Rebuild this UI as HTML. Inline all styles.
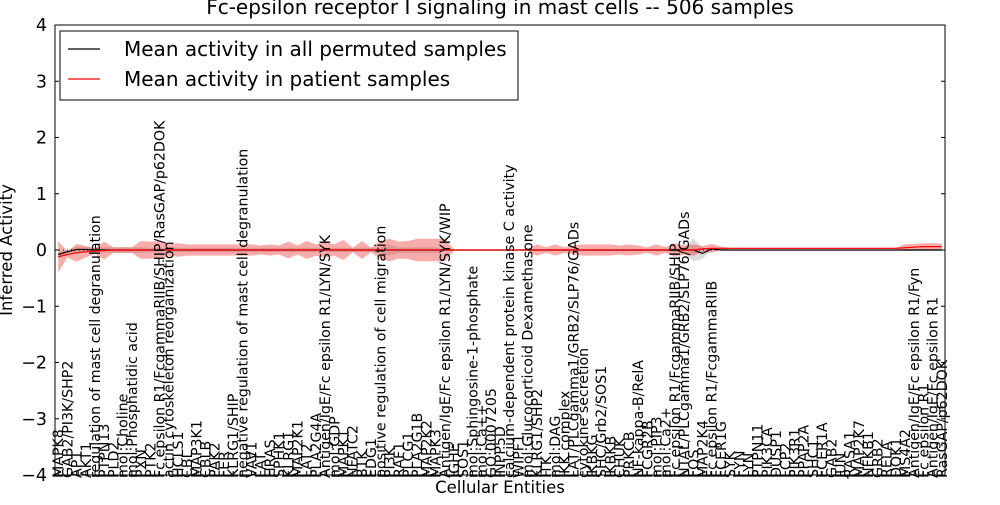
<!DOCTYPE html>
<html><head><meta charset="utf-8"><style>
body{margin:0;background:#fff;}
svg text{font-family:"DejaVu Sans","Liberation Sans",sans-serif;}
</style></head><body>
<svg id="chart" width="1000" height="500" xmlns="http://www.w3.org/2000/svg">
<text x="500" y="14" font-size="20" text-anchor="middle">Fc-epsilon receptor I signaling in mast cells -- 506 samples</text>
<g id="bands"></g>
<g id="lines"></g>
<rect x="55" y="25" width="890" height="450" fill="none" stroke="#000" stroke-width="1"/>
<g id="yaxis"></g>
<g id="xaxis"></g>
<text transform="translate(12,250) rotate(-90)" font-size="16.5" text-anchor="middle">Inferred Activity</text>
<text x="500" y="493" font-size="16.5" text-anchor="middle">Cellular Entities</text>
<g>
<rect x="60" y="31" width="458" height="69" fill="#fff" stroke="#000" stroke-width="1"/>
<line x1="68" y1="49" x2="100" y2="49" stroke="#000" stroke-width="1.2"/>
<text x="124" y="56" font-size="20">Mean activity in all permuted samples</text>
<line x1="68" y1="79" x2="100" y2="79" stroke="#f00" stroke-width="1.2"/>
<text x="124" y="86" font-size="20">Mean activity in patient samples</text>
</g>
</svg>
<script>
const categories=["MAPK8","GAB2/PI3K/SHP2","AP1","AKT1","regulation of mast cell degranulation","PTPN13","PLD2","mol:Choline","mol:Phosphatidic acid","PXN","PTK2","Fc epsilon R1/FcgammaRIIB/SHIP/RasGAP/p62DOK","actin cytoskeleton reorganization","HCLS1","CBL","MAP3K1","CBLB","PAK2","FER","KLRG1/SHIP","negative regulation of mast cell degranulation","VAV1","LAT","HRAS","SPHK1","KLRG1","MAP2K1","LAT2","PLA2G4A","Antigen/IgE/Fc epsilon R1/LYN/SYK","mol:GDP","MAPK1","NFATC2","BTK","EDG1","positive regulation of cell migration","PI3K","RAF1","PLCG1","PLA2G1B","MAP2K2","MAPK3","Antigen/IgE/Fc epsilon R1/LYN/SYK/WIP","IGHE","SOS1","mol:Sphingosine-1-phosphate","mol:Ca++","GO:0007205","INPP5D","calcium-dependent protein kinase C activity","WIPF1","mol:Glucocorticoid Dexamethasone","KLRG1/SHP2","ITK","mol:DAG","IKK complex","LAT/PLCgamma1/GRB2/SLP76/GADs","cytokine secretion","IKBKG","SHC/Grb2/SOS1","IKBKB","CHUK","PRKCB","NF-kappa-B/RelA","FCGR2B","mol:PIP3","mol:Ca2+","Fc epsilon R1/FcgammaRIIB/SHIP","NTAL/PLCgamma1/GRB2/SLP76/GADs","FOS","MAP2K4","Fc epsilon R1/FcgammaRIIB","FCER1G","SYK","FYN","LYN","PTPN11","PIK3CA","DUSP1","LCP2","PIK3R1","PPAP2A","SHC1","FCER1A","GAB2","JUN","RASA1","MAP2K7","NFKB1","GRB2","RELA","DOK1","MS4A2","Antigen/IgE/Fc epsilon R1/Fyn","Fc epsilon R1","Antigen/IgE/Fc epsilon R1","RasGAP/p62DOK"];
const permMean=[-0.08,-0.03,0.01,0.01,0,0,0,0,0,0,0,0,0,0,0,0,0,0,0,0,0,0,0,0,0,0,0,0,0,0,0,0,0,0,0,0,0,0,0,0,0,0,0,0,0,0,0,0,0,0,0,0,0,0,0,0,0,0,0,0,0,0,0,0,0,0,0,0,0,0,-0.06,0.02,0,0,0,0,0,0,0,0,0,0,0,0,0,0,0,0,0,0,0,0,0,0,0,0,0];
const permSd=[0.04,0.03,0.05,0.05,0.05,0.05,0.05,0.05,0.05,0.05,0.04,0.04,0.04,0.04,0.04,0.04,0.04,0.04,0.04,0.04,0.04,0.04,0.04,0.04,0.04,0.04,0.04,0.04,0.04,0.04,0.04,0.04,0.04,0.04,0.04,0.05,0.1,0.05,0.05,0.05,0.05,0.05,0.02,0.01,0.01,0.01,0.01,0.01,0.01,0.01,0.01,0.01,0.02,0.02,0.02,0.02,0.02,0.02,0.02,0.02,0.02,0.02,0.02,0.02,0.02,0.02,0.02,0.04,0.05,0.2,0.1,0.02,0.01,0.01,0.01,0.01,0.01,0.01,0.01,0.01,0.01,0.01,0.01,0.01,0.01,0.01,0.01,0.01,0.01,0.01,0.01,0.01,0.01,0.02,0.02,0.02,0.02];
const patMean=[-0.12,-0.08,-0.05,-0.03,-0.02,-0.01,0,0,0,0,0,0,0,0,0,0,0,0,0,0,0,0,0,0,0,0,0,0,0,0,0,0,0,0,0,0,0,0,0,0,0,0,0,0,0,0,0,0,0,0,0,0,0,0,0,0,0,0,0,0,0,0,0,0,0,0,0,0,0,0,0.02,0.03,0.03,0.03,0.03,0.03,0.03,0.03,0.03,0.03,0.03,0.03,0.03,0.03,0.03,0.03,0.03,0.03,0.03,0.03,0.03,0.03,0.04,0.05,0.06,0.06,0.06];
const patSd=[0.28,0.05,0.16,0.1,0.05,0.16,0.05,0.05,0.05,0.16,0.15,0.16,0.1,0.12,0.1,0.1,0.1,0.1,0.1,0.1,0.1,0.1,0.08,0.1,0.08,0.15,0.08,0.16,0.1,0.14,0.1,0.18,0.04,0.16,0.04,0.16,0.2,0.15,0.16,0.2,0.2,0.2,0.2,0.01,0.01,0.01,0.01,0.01,0.01,0.01,0.01,0.02,0.1,0.05,0.1,0.05,0.08,0.1,0.1,0.1,0.1,0.08,0.1,0.08,0.05,0.1,0.05,0.12,0.08,0.1,0.05,0.08,0.03,0.01,0.01,0.01,0.01,0.01,0.01,0.01,0.01,0.01,0.01,0.01,0.01,0.01,0.01,0.01,0.01,0.01,0.01,0.01,0.06,0.06,0.06,0.06,0.05];
const yTicks=[-4,-3,-2,-1,0,1,2,3,4];

const NS="http://www.w3.org/2000/svg";
const X0=55,X1=945,Y0=475,Y1=25;
const n=categories.length;
function xs(i){return X0+(i+0.35)*(X1-X0)/(n-1+0.7);}
function ys(v){return Y0-(v+4)/8*(Y0-Y1);}
function mk(t,a,p){const e=document.createElementNS(NS,t);for(const k in a)e.setAttribute(k,a[k]);p.appendChild(e);return e;}
function band(mean,sd,fill,op,name){
  let up=[],dn=[];
  for(let i=0;i<n;i++){up.push(xs(i)+","+ys(mean[i]+sd[i]));dn.unshift(xs(i)+","+ys(mean[i]-sd[i]));}
  const p=mk("polygon",{points:up.concat(dn).join(" "),fill:fill,"fill-opacity":op},document.getElementById("bands"));
  
  
}
band(permMean,permSd,"#999",0.35,"permuted-band");
band(patMean,patSd,"#e33",0.4,"patient-band");
const lines=document.getElementById("lines");
const z=mk("line",{x1:X0,x2:X1,y1:ys(0),y2:ys(0),stroke:"#000","stroke-dasharray":"1,3","stroke-width":1},lines);


function line(arr,col,name){
  const pts=arr.map((v,i)=>xs(i)+","+ys(v)).join(" ");
  const l=mk("polyline",{points:pts,fill:"none",stroke:col,"stroke-width":1.2},lines);
  
  
}
line(permMean,"#000","permuted-mean-line");
line(patMean,"#f00","patient-mean-line");
const ya=document.getElementById("yaxis");
yTicks.forEach(v=>{
  const y=ys(v);
  mk("line",{x1:X0,x2:X0+4,y1:y,y2:y,stroke:"#000"},ya);
  mk("line",{x1:X1-4,x2:X1,y1:y,y2:y,stroke:"#000"},ya);
  const t=mk("text",{x:X0-8,y:y+6,"font-size":17.5,"text-anchor":"end"},ya);
  t.textContent=(v<0?"\u2212"+(-v):String(v));
  
  
});
const xa=document.getElementById("xaxis");
categories.forEach((c,i)=>{
  const x=xs(i);
  mk("line",{x1:x,x2:x,y1:Y0,y2:Y0-4,stroke:"#000"},xa);
  const t=mk("text",{transform:"translate("+(x+5)+","+(Y0+3)+") rotate(-90)","font-size":14.2},xa);
  t.textContent=c;
  
  
});
</script>
</body></html>
